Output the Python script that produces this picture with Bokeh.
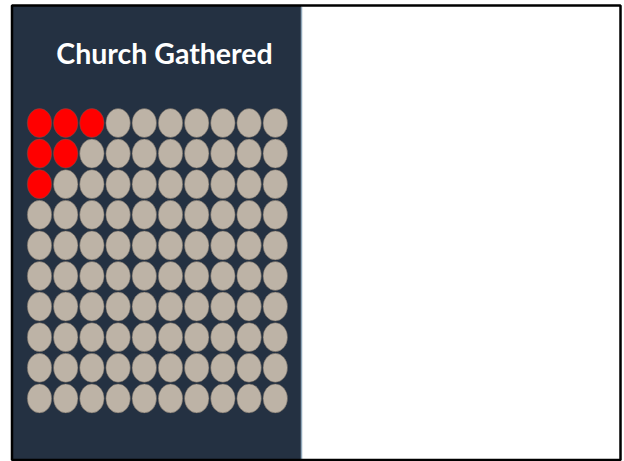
from bokeh.plotting import figure
from bokeh.models import Range1d
from bokeh.core.properties import value
from bokeh.embed import file_html
from bokeh.resources import INLINE

# ---- data ----
title_text = "Church Gathered"
n_rows = 10
n_cols = 10
highlight_per_row = [3, 2, 1, 0, 0, 0, 0, 0, 0, 0]

# ---- styles / layout (pixel units; y grows downward) ----
W, H = 624, 461
x0, dx = 39, 26.2
y0, dy = 122.5, 30.6
ew, eh = 24.5, 29
red = "#ff0000"
gray = "#bdb3a6"
panel_col = "#243142"

xs, ys, cols = [], [], []
for r in range(n_rows):
    for c in range(n_cols):
        xs.append(x0 + c * dx)
        ys.append(y0 + r * dy)
        cols.append(red if c < highlight_per_row[r] else gray)

p = figure(width=W, height=H, output_backend="svg", toolbar_location=None,
           x_range=Range1d(0, W), y_range=Range1d(H, 0), min_border=0,
           background_fill_color="white", border_fill_color="white")
p.axis.visible = False
p.grid.visible = False
p.outline_line_color = None

# dark panel
p.quad(left=[12], right=[300.5], top=[5], bottom=[460], fill_color=panel_col, line_color=None)
p.segment(x0=[301], y0=[6], x1=[301], y1=[459], line_color="#8fa6b8", line_width=1.5)
# frame
p.quad(left=[11.5], right=[620], top=[5], bottom=[459.5], fill_color=None,
       line_color="black", line_width=2.5)

# title
p.text(x=[164], y=[52], text=[title_text], text_color="white",
       text_font=value("Lato"), text_font_style="bold", text_font_size="28.5px",
       text_align="center", text_baseline="middle")

# waffle
p.ellipse(x=xs, y=ys, width=ew, height=eh, fill_color=cols,
          line_color="#5f5a54", line_width=1, line_alpha=0.5)

open("out.html", "w").write(file_html(p, INLINE))
